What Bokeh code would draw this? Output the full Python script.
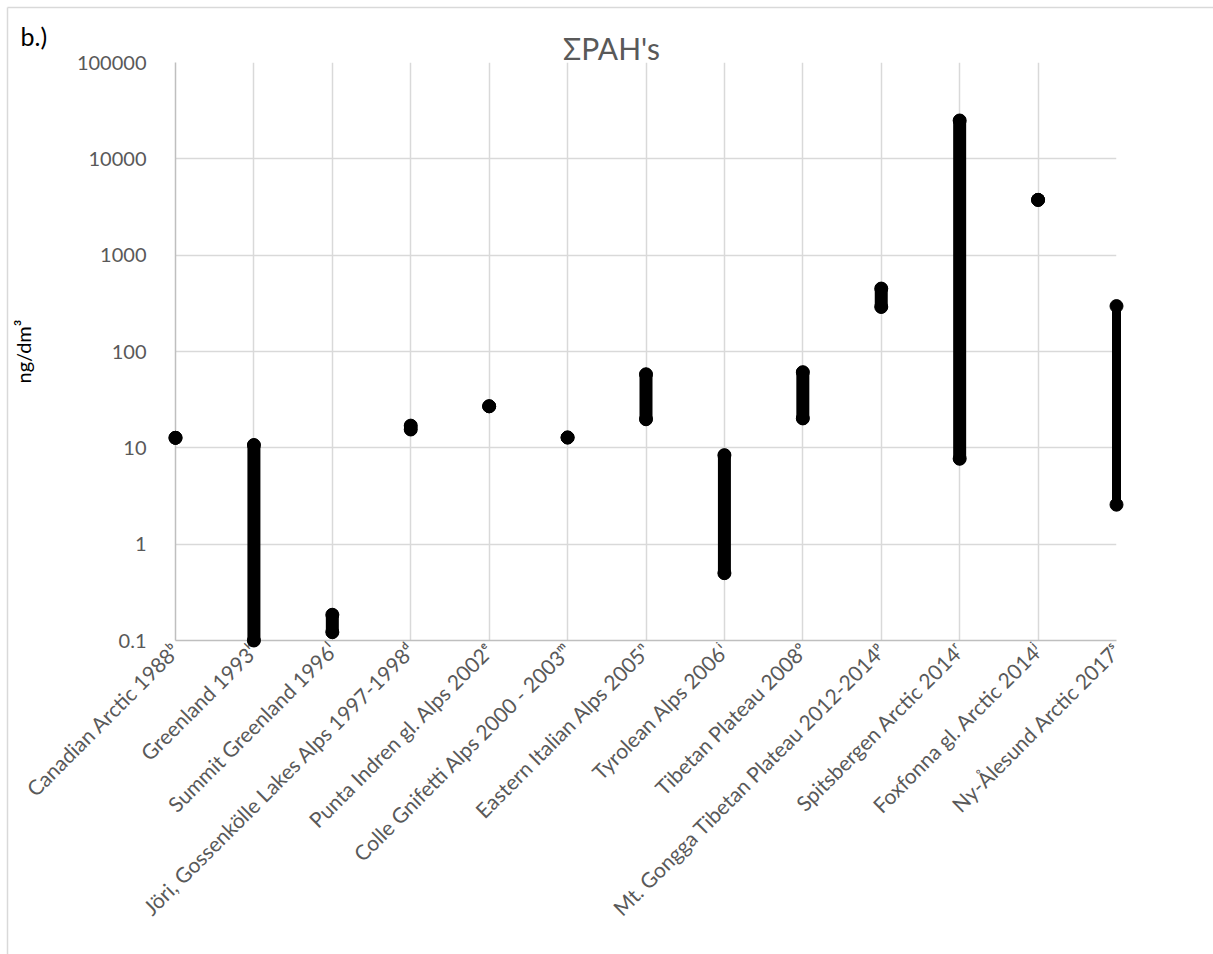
import math
from bokeh.plotting import figure
from bokeh.models import (FixedTicker, CustomJSTickFormatter,
                          ColumnDataSource, Range1d)
from bokeh.core.properties import value
from bokeh.embed import file_html
from bokeh.resources import INLINE

# ---- data -------------------------------------------------------------
categories = [
    "Canadian Arctic 1988\u1d47",
    "Greenland 1993\u1d4f",
    "Summit Greenland 1996\u02e1",
    "J\u00f6ri, Gossenk\u00f6lle Lakes Alps 1997-1998\u1d48",
    "Punta Indren gl. Alps 2002\u1d49",
    "Colle Gnifetti Alps 2000 - 2003\u1d50",
    "Eastern Italian Alps 2005\u207f",
    "Tyrolean Alps 2006\u2071",
    "Tibetan Plateau 2008\u1d52",
    "Mt. Gongga Tibetan Plateau 2012-2014\u1d56",
    "Spitsbergen Arctic 2014\u02b3",
    "Foxfonna gl. Arctic 2014\u02b2",
    "Ny-\u00c5lesund Arctic 2017\u02e2",
]
low_values = [12.7, 0.1, 0.122, 15.5, 27.0, 12.8, 19.8, 0.5, 20.2, 290.0, 7.7, 3750.0, 2.57]
high_values = [12.7, 10.7, 0.185, 17.0, 27.0, 12.8, 58.0, 8.4, 61.0, 450.0, 25000.0, 3750.0, 296.0]
y_ticks = [0.1, 1, 10, 100, 1000, 10000, 100000]
chart_title = "\u03a3PAH's"
panel_tag = "b.)"
y_title = "ng/dm\u00b3"

FONT = "Lato"
LABEL_COLOR = "#595959"

# layout (pixels)
W, H = 1213, 954
F_LEFT, F_RIGHT, F_TOP, F_BOTTOM = 175, 1116, 62, 640

positions = list(range(len(categories)))
x0, x1 = 0, len(categories) - 1
y0, y1 = y_ticks[0], y_ticks[-1]

p = figure(width=W, height=H, y_axis_type="log",
           x_range=Range1d(x0, x1), y_range=Range1d(y0, y1),
           output_backend="svg", toolbar_location=None,
           min_border_left=F_LEFT, min_border_right=W - F_RIGHT,
           min_border_top=F_TOP, min_border_bottom=H - F_BOTTOM)
p.outline_line_color = None
p.background_fill_color = "white"
p.border_fill_color = "white"

# x axis
p.xaxis.ticker = FixedTicker(ticks=positions)
p.xaxis.major_label_overrides = {i: c for i, c in enumerate(categories)}
p.xaxis.major_label_orientation = math.pi / 4
p.xaxis.major_label_text_font = FONT
p.xaxis.major_label_text_font_size = "21px"
p.xaxis.major_label_text_color = LABEL_COLOR
p.xaxis.major_label_standoff = 0
p.xaxis.major_tick_line_color = None
p.xaxis.minor_tick_line_color = None
p.xaxis.axis_line_color = "#bfbfbf"
p.xaxis.axis_line_width = 1.5

# y axis
p.yaxis.ticker = FixedTicker(ticks=y_ticks)
p.yaxis.formatter = CustomJSTickFormatter(code="return tick.toString();")
p.yaxis.major_label_text_font = FONT
p.yaxis.major_label_text_font_size = "20px"
p.yaxis.major_label_text_color = LABEL_COLOR
p.yaxis.major_label_standoff = 23
p.yaxis.major_tick_line_color = None
p.yaxis.minor_tick_line_color = None
p.yaxis.axis_line_color = "#bfbfbf"
p.yaxis.axis_line_width = 1.5
p.yaxis.axis_label = y_title
p.yaxis.axis_label_text_font = FONT
p.yaxis.axis_label_text_font_size = "20px"
p.yaxis.axis_label_text_font_style = "normal"
p.yaxis.axis_label_text_color = "#000000"
p.yaxis.axis_label_standoff = 39

# grids
p.xgrid.ticker = FixedTicker(ticks=positions)
p.ygrid.ticker = FixedTicker(ticks=y_ticks)
p.xgrid.grid_line_color = "#d9d9d9"
p.ygrid.grid_line_color = "#d9d9d9"
p.xgrid.grid_line_width = 1.5
p.ygrid.grid_line_width = 1.5

# helpers: pixel -> data (only used to place decorations)
def px_to_x(px):
    return x0 + (px - F_LEFT) / (F_RIGHT - F_LEFT) * (x1 - x0)

def px_to_y(py):
    dec = math.log10(y1) - (py - F_TOP) / (F_BOTTOM - F_TOP) * (math.log10(y1) - math.log10(y0))
    return 10 ** dec

# chart-area border: only its top and left edges fall inside the image
b_left, b_top = 7, 7
p.segment(x0=[px_to_x(b_left), px_to_x(b_left)],
          y0=[px_to_y(b_top), px_to_y(b_top)],
          x1=[px_to_x(W), px_to_x(b_left)],
          y1=[px_to_y(b_top), px_to_y(H)],
          line_color="#d9d9d9", line_width=1.5, level="overlay")

# ---- marks ------------------------------------------------------------
n_range = len(categories) - 1
src_range = ColumnDataSource(dict(x=positions[:n_range], lo=low_values[:n_range],
                                  hi=high_values[:n_range]))
src_pair = ColumnDataSource(dict(x=positions[n_range:], lo=low_values[n_range:],
                                 hi=high_values[n_range:]))
src_all = ColumnDataSource(dict(x=positions, lo=low_values, hi=high_values))

p.segment(x0="x", y0="lo", x1="x", y1="hi", source=src_range,
          line_width=13, line_cap="round", line_color="black", level="overlay")
p.segment(x0="x", y0="lo", x1="x", y1="hi", source=src_pair,
          line_width=9, line_cap="butt", line_color="black", level="overlay")
p.scatter(x="x", y="lo", source=src_all, size=13, color="black", level="overlay")
p.scatter(x="x", y="hi", source=src_all, size=13, color="black", level="overlay")

# ---- texts (anchored at the top-left corner of the plot area) ---------
p.text(x=[x0], y=[y1], text=[chart_title], x_offset=611 - F_LEFT, y_offset=-15,
       text_font=value(FONT), text_font_size="30px", text_color=LABEL_COLOR,
       text_align="center", text_baseline="alphabetic", level="overlay")
p.text(x=[x0], y=[y1], text=[panel_tag], x_offset=20 - F_LEFT, y_offset=-27,
       text_font=value(FONT), text_font_size="25px", text_color="#000000",
       text_align="left", text_baseline="alphabetic", level="overlay")

open("out.html", "w").write(file_html(p, INLINE))
